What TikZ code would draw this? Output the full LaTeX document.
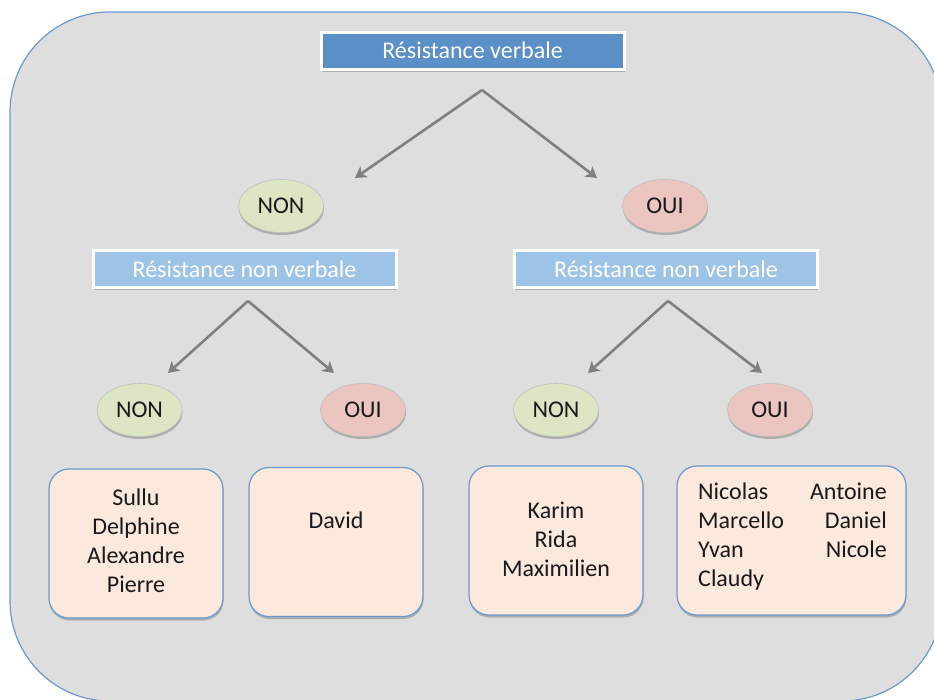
\documentclass[tikz,border=0pt]{standalone}
\usepackage{fontspec}
\setmainfont{Carlito}
\usetikzlibrary{shapes.geometric,shadows,arrows.meta}
\definecolor{bgGray}{HTML}{DEDEDE}
\definecolor{edgeBlue}{HTML}{6A98CF}
\definecolor{headBlue}{HTML}{5B8FC7}
\definecolor{subBlue}{HTML}{9DC3E6}
\definecolor{nonGreen}{HTML}{DDE6C4}
\definecolor{ouiPink}{HTML}{EBC6C1}
\definecolor{nameFill}{HTML}{FBE9DE}
\definecolor{arrGray}{HTML}{808080}
\tikzset{
  softshadow/.style={drop shadow={shadow xshift=0.5pt,shadow yshift=-2.5pt,fill=black,opacity=.22}},
  headbox/.style={draw=white,line width=3pt,fill=headBlue,text=white,
    minimum width=303pt,minimum height=37pt,inner sep=0pt,softshadow},
  subbox/.style={headbox,fill=subBlue},
  answer/.style={ellipse,draw=black!25,line width=.6pt,minimum width=85pt,
    minimum height=53pt,inner sep=0pt,text=black!90,softshadow},
  nonans/.style={answer,fill=nonGreen},
  ouians/.style={answer,fill=ouiPink},
  namebox/.style={draw=edgeBlue,line width=1.2pt,fill=nameFill,rounded corners=20pt,
    minimum width=174pt,minimum height=149pt,softshadow},
  names/.style={align=center,inner sep=0pt,text=black!90},
  branch/.style={draw=arrGray,line width=2.6pt,-{Stealth[length=11pt,width=13pt,inset=3pt]}}
}
\begin{document}
\begin{tikzpicture}[x=1pt,y=-1pt,font=\fontsize{24}{29}\selectfont]
\useasboundingbox (0,0) rectangle (934,699);
\clip (0,0) rectangle (934,699);
% background panel
\draw[edgeBlue,fill=bgGray,line width=1.2pt,rounded corners=100pt] (10,12) rectangle (942,701);

% first question
\node[headbox] (verbal) at (472.5,50.5) {Résistance verbale};
\node[nonans] (non) at (281,206) {NON};
\node[ouians] (oui) at (665,206) {OUI};
\coordinate (vsplit) at (482,90);
\coordinate (vnon) at (355,178);
\coordinate (voui) at (597,178);
\draw[branch] (vsplit) -- (vnon);
\draw[branch] (vsplit) -- (voui);

% second question
\node[subbox] (nvleft) at (244.5,269) {Résistance non verbale};
\node[subbox] (nvright) at (666,269) {Résistance non verbale};
\coordinate (lsplit) at (248,301);
\coordinate (lnon) at (168,373);
\coordinate (loui) at (334,373);
\coordinate (rsplit) at (668,301);
\coordinate (rnon) at (588,373);
\coordinate (roui) at (762,373);
\draw[branch] (lsplit) -- (lnon);
\draw[branch] (lsplit) -- (loui);
\draw[branch] (rsplit) -- (rnon);
\draw[branch] (rsplit) -- (roui);

\node[nonans] (nonnon) at (139.5,410) {NON};
\node[ouians] (nonoui) at (363,410) {OUI};
\node[nonans] (ouinon) at (556,410) {NON};
\node[ouians] (ouioui) at (770,410) {OUI};

% groups
\node[namebox] (grpa) at (136,543.5) {};
\node[namebox] (grpb) at (336,542) {};
\node[namebox] (grpc) at (556,540.5) {};
\node[namebox,minimum width=229pt] (grpd) at (791.5,540.5) {};
\node[names] (txta) at (136,541) {Sullu\\Delphine\\Alexandre\\Pierre};
\node[names] (txtb) at (336,520) {David};
\node[names] (txtc) at (556,539) {Karim\\Rida\\Maximilien};
\node[names,align=left,anchor=west] (txtd) at (698,537) {Nicolas\\Marcello\\Yvan\\Claudy};
\node[names,align=right,anchor=east] (txte) at (887,520) {Antoine\\Daniel\\Nicole};
\end{tikzpicture}
\end{document}
